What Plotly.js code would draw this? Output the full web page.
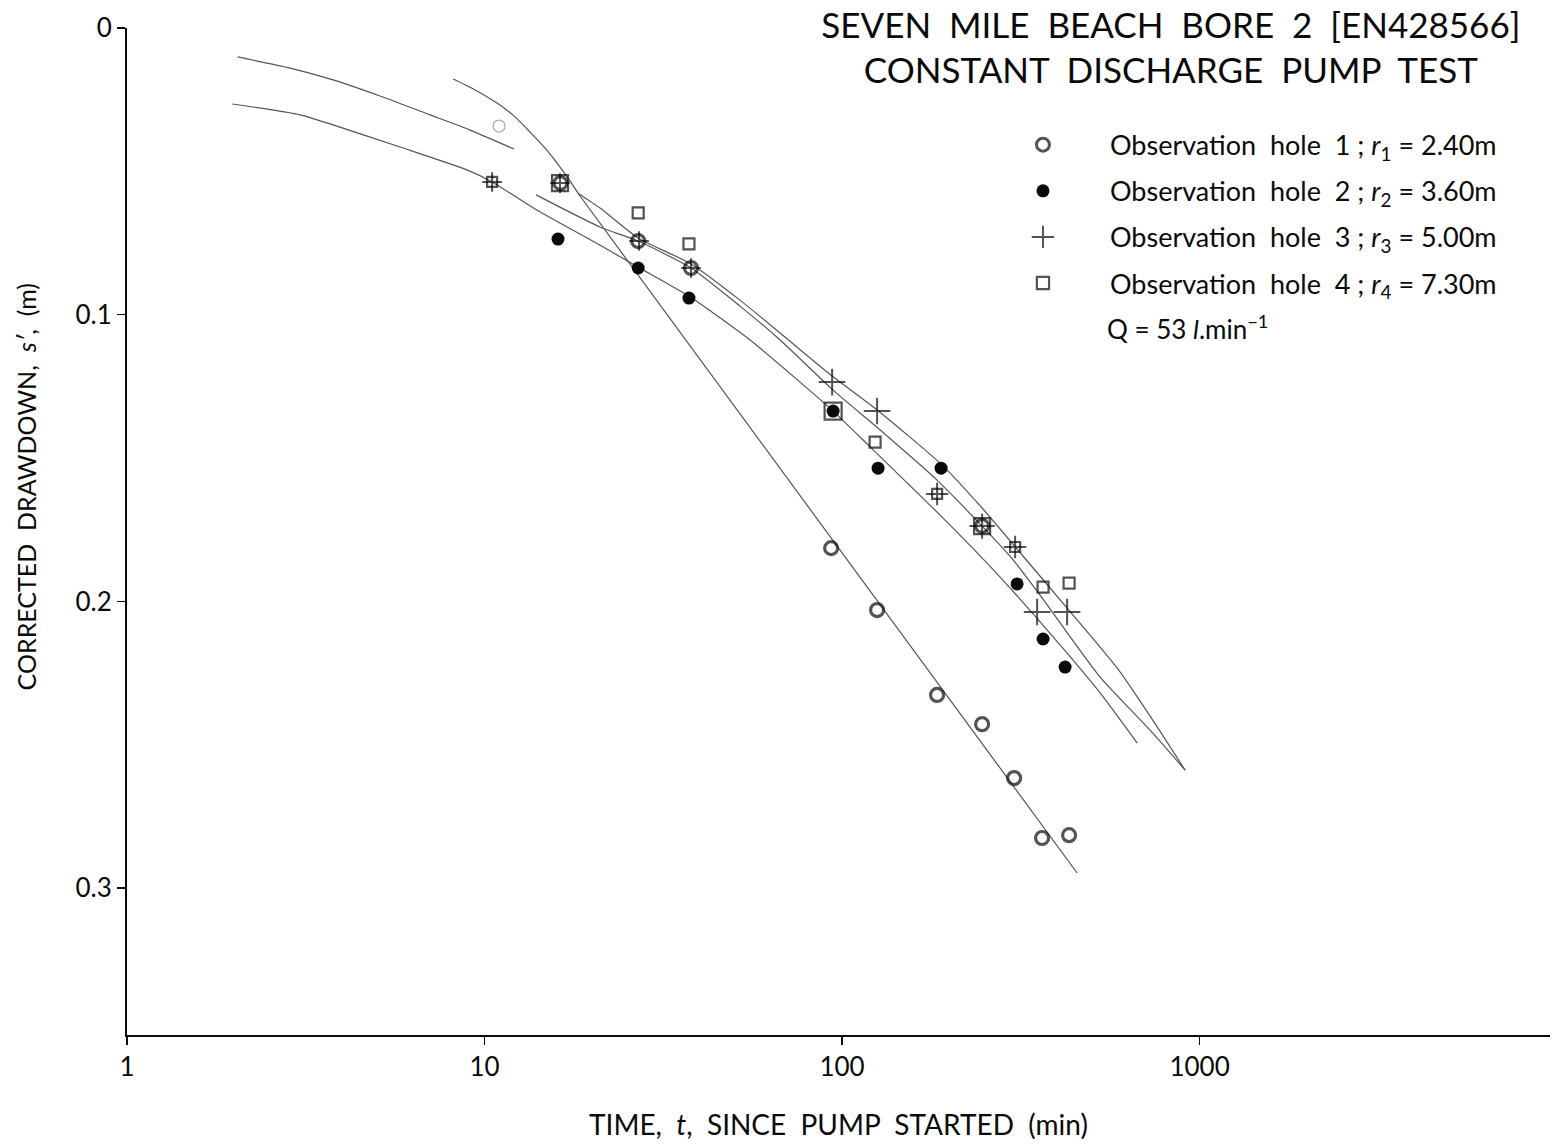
<!DOCTYPE html>
<html><head><meta charset="utf-8">
<script src="https://cdn.plot.ly/plotly-3.0.1.min.js"></script>
<style>html,body{margin:0;padding:0;background:#fff}#chart{width:1557px;height:1147px}</style>
</head><body><div id="chart"></div>
<script>
// ---- observation data (time t in min, corrected drawdown s' in m) ----
const hole1T = [16.3, 26.9, 37.8, 93.2, 125.3, 184.4, 246.4, 302.8, 362.6, 431.5, 246.4, 10.98];
const hole1S = [0.0541, 0.0743, 0.0837, 0.1814, 0.2030, 0.2326, 0.2428, 0.2616, 0.2825, 0.2815, 0.1737, 0.0342];
const hole2T = [16.05, 26.9, 37.3, 94.4, 126.1, 189.2, 308.7, 364.9, 420.5];
const hole2S = [0.0736, 0.0837, 0.0942, 0.1336, 0.1535, 0.1535, 0.1939, 0.2131, 0.2229];
const hole3T = [10.5, 16.26, 27.05, 37.8, 93.8, 125.3, 184.4, 246.4, 304.8, 351.2, 426];
const hole3S = [0.0537, 0.0541, 0.0743, 0.0837, 0.1235, 0.1336, 0.1625, 0.1737, 0.1810, 0.2037, 0.2037];
const hole4T = [10.5, 16.26, 26.9, 37.3, 94.4, 123.7, 184.4, 246.4, 304.8, 364.9, 431.5];
const hole4S = [0.0537, 0.0541, 0.0645, 0.0753, 0.1336, 0.1444, 0.1625, 0.1737, 0.1810, 0.1950, 0.1936];

// ---- hand-fitted curves ----
const curveAT = [2.04, 2.86, 3.77, 5.10, 7.04, 9.11, 12.09];
const curveAS = [0.0101, 0.0140, 0.0181, 0.0237, 0.0303, 0.0356, 0.0422];
const curveBT = [1.97, 3.05, 3.77, 5.80, 8.93, 10.5, 14.0, 21.0, 26.9, 37.6, 55.3, 76.3, 94.4, 119.8, 188, 276.7, 426, 527, 669];
const curveBS = [0.0265, 0.0303, 0.0338, 0.0415, 0.0495, 0.0537, 0.0635, 0.0757, 0.0834, 0.0938, 0.1088, 0.1235, 0.1336, 0.1461, 0.1699, 0.1915, 0.2180, 0.2319, 0.2494];
const curveCT = [8.17, 9.41, 10.84, 12.17, 13.41, 14.77, 15.95, 17.35, 18.50, 454.4];
const curveCS = [0.0178, 0.0216, 0.0262, 0.0310, 0.0363, 0.0419, 0.0471, 0.0534, 0.0586, 0.2947];
const curveDT = [13.94, 21.04, 26.88, 37.8, 51.8, 67.1, 94.4, 127.8, 184.4, 295, 357.9, 527, 727, 910.9];
const curveDS = [0.0582, 0.0694, 0.0743, 0.0837, 0.0970, 0.1088, 0.1263, 0.1402, 0.1577, 0.1842, 0.1978, 0.2264, 0.2449, 0.2588];
const curveET = [18.26, 21.04, 26.88, 37.8, 51.8, 67.1, 93.8, 125.3, 189.2, 246.4, 318.8, 426, 587.8, 727, 910.9];
const curveES = [0.0576, 0.0628, 0.0732, 0.0823, 0.0949, 0.1064, 0.1214, 0.1332, 0.1521, 0.1674, 0.1838, 0.2023, 0.2232, 0.2400, 0.2588];

// ---- labels ----
const legendNames = [
  'Observation\u00a0\u00a0hole\u00a0\u00a01\u00a0;\u00a0<i>r</i><sub>1</sub>\u00a0=\u00a02.40m',
  'Observation\u00a0\u00a0hole\u00a0\u00a02\u00a0;\u00a0<i>r</i><sub>2</sub>\u00a0=\u00a03.60m',
  'Observation\u00a0\u00a0hole\u00a0\u00a03\u00a0;\u00a0<i>r</i><sub>3</sub>\u00a0=\u00a05.00m',
  'Observation\u00a0\u00a0hole\u00a0\u00a04\u00a0;\u00a0<i>r</i><sub>4</sub>\u00a0=\u00a07.30m'
];
const xTickVals = [1, 10, 100, 1000];
const xTickText = ['1', '10', '100', '1000'];
const yTickVals = [0, 0.1, 0.2, 0.3];
const yTickText = ['0', '0.1', '0.2', '0.3'];

const FONT = 'Lato, "Open Sans", sans-serif';
const INK = '#0a0a0a';
const LINE = '#555555';

function curve(t, s) {
  return {x: t, y: s, type: 'scatter', mode: 'lines', showlegend: false, hoverinfo: 'skip',
          line: {color: LINE, width: 1.2, shape: 'spline', smoothing: 0.6}};
}

const last1 = hole1T.length - 1;
const traces = [
  curve(curveAT, curveAS), curve(curveBT, curveBS), curve(curveCT, curveCS),
  curve(curveDT, curveDS), curve(curveET, curveES),
  {x: hole1T, y: hole1S, type: 'scatter', mode: 'markers', name: legendNames[0], legendgroup: 'h1',
   marker: {symbol: 'circle-open', size: hole1T.map((v, i) => i === last1 ? 12 : 13),
            color: hole1T.map((v, i) => i === last1 ? '#8a8a8a' : INK),
            line: {width: hole1T.map((v, i) => i === last1 ? 1.3 : 3.2)}}},
  {x: hole2T, y: hole2S, type: 'scatter', mode: 'markers', name: legendNames[1], legendgroup: 'h2',
   marker: {symbol: 'circle', size: 13, color: INK}},
  {x: hole3T, y: hole3S, type: 'scatter', mode: 'markers', name: legendNames[2], legendgroup: 'h3',
   marker: {symbol: 'cross-thin-open', size: [14, 14, 14, 14, 19, 19, 16, 18, 16, 19, 19], color: INK,
            line: {width: 2, color: INK}}},
  {x: hole4T, y: hole4S, type: 'scatter', mode: 'markers', name: legendNames[3], legendgroup: 'h4',
   marker: {symbol: 'square-open', size: [10, 16, 11, 11, 17, 11, 10, 16, 10, 11, 11], color: INK,
            line: {width: 2.2, color: INK}}}
];

const layout = {
  width: 1557, height: 1147,
  paper_bgcolor: '#ffffff', plot_bgcolor: '#ffffff',
  margin: {l: 127, r: 7, t: 28, b: 112},
  font: {family: FONT, color: INK, size: 22},
  title: {text: 'SEVEN\u00a0 MILE\u00a0 BEACH\u00a0 BORE\u00a0 2\u00a0 [EN428566]<br>CONSTANT\u00a0 DISCHARGE\u00a0 PUMP\u00a0 TEST',
          x: 0.752, xref: 'container', xanchor: 'center', y: 0.967, yref: 'container', yanchor: 'top',
          font: {family: FONT, size: 35, color: INK}},
  xaxis: {type: 'log', range: [0, 3.98], tickmode: 'array', tickvals: xTickVals, ticktext: xTickText,
          showline: true, linecolor: INK, linewidth: 2, ticks: 'outside', ticklen: 8, tickwidth: 1.5, tickcolor: INK,
          showgrid: false, zeroline: false, tickfont: {size: 26, family: FONT, color: INK},
          title: {text: 'TIME,\u00a0 <i>t</i>,\u00a0 SINCE\u00a0 PUMP\u00a0 STARTED\u00a0 (min)', font: {size: 28, family: FONT, color: INK}, standoff: 34}},
  yaxis: {range: [0.3512, 0], tickmode: 'array', tickvals: yTickVals, ticktext: yTickText,
          showline: true, linecolor: INK, linewidth: 2, ticks: 'outside', ticklen: 8, tickwidth: 1.5, tickcolor: INK,
          showgrid: false, zeroline: false, tickfont: {size: 26, family: FONT, color: INK},
          title: {text: '<span>' + '\u00a0'.repeat(14) + '</span>CORRECTED\u00a0 DRAWDOWN,\u00a0 <i>s\u2032</i>,\u00a0 (m)', font: {size: 25, family: FONT, color: INK}, standoff: 32}},
  showlegend: true,
  legend: {x: 0.5966, xanchor: 'left', y: 0.908, yanchor: 'top', bgcolor: 'rgba(0,0,0,0)',
           font: {family: FONT, size: 27, color: INK}, traceorder: 'grouped', tracegroupgap: 8, itemwidth: 124},
  annotations: [
    {text: 'Q\u00a0=\u00a053\u00a0<i>l</i>.min<sup>\u22121</sup>', xref: 'paper', yref: 'paper',
     x: (1105 - 127) / 1423, y: 1 - (327 - 28) / 1007, xanchor: 'left', yanchor: 'middle', showarrow: false,
     font: {family: FONT, size: 26, color: INK}}
  ]
};

Plotly.newPlot('chart', traces, layout, {displayModeBar: false, staticPlot: true});
</script></body></html>
